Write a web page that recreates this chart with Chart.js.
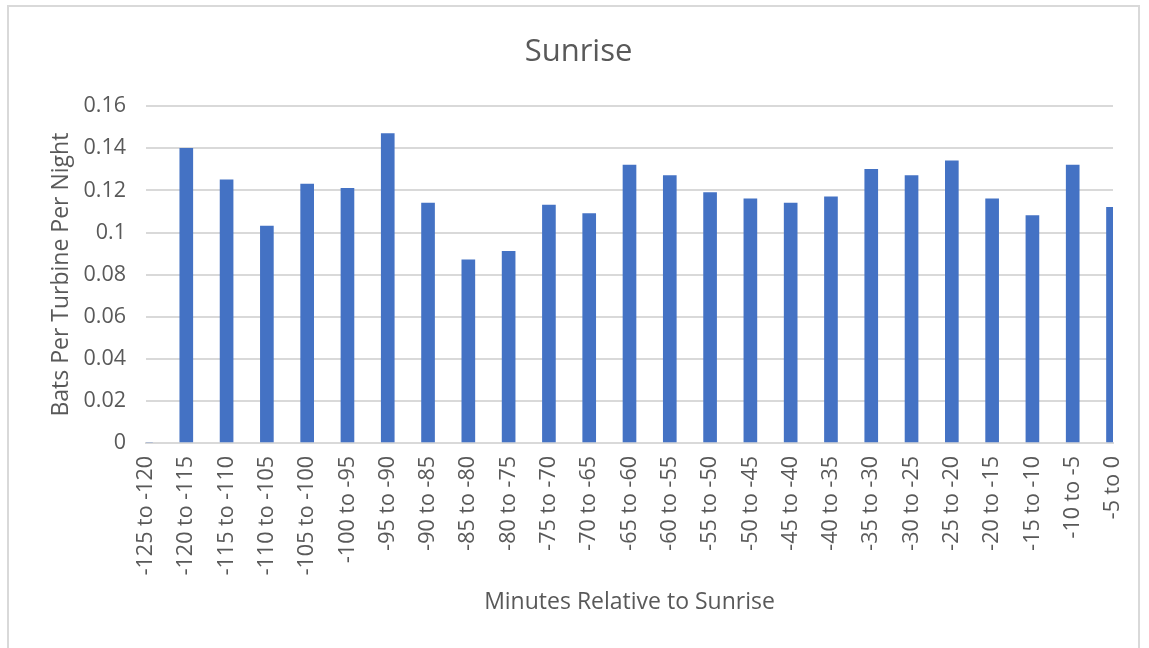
<!DOCTYPE html>
<html>
<head>
<meta charset="utf-8">
<script src="https://cdn.jsdelivr.net/npm/chart.js@4"></script>
<style>
  body { margin: 0; background: #fff; }
  #frame { position: absolute; left: 7px; top: 5px; width: 1133px; height: 700px; border: 2px solid #d9d9d9; box-sizing: border-box; }
  #wrap { position: absolute; left: 0; top: 0; width: 1149px; height: 648px; }
</style>
</head>
<body>
<div id="frame"></div>
<div id="wrap"><canvas id="chart" width="1149" height="648"></canvas></div>
<script>
// categories (5-minute bins before sunrise)
const categories = [
  '-125 to -120', '-120 to -115', '-115 to -110', '-110 to -105', '-105 to -100',
  '-100 to -95', '-95 to -90', '-90 to -85', '-85 to -80', '-80 to -75',
  '-75 to -70', '-70 to -65', '-65 to -60', '-60 to -55', '-55 to -50',
  '-50 to -45', '-45 to -40', '-40 to -35', '-35 to -30', '-30 to -25',
  '-25 to -20', '-20 to -15', '-15 to -10', '-10 to -5', '-5 to 0'
];

// bats per turbine per night
const batsPerTurbine = [
  0, 0.140, 0.125, 0.103, 0.123,
  0.121, 0.147, 0.114, 0.087, 0.091,
  0.113, 0.109, 0.132, 0.127, 0.119,
  0.116, 0.114, 0.117, 0.130, 0.127,
  0.134, 0.116, 0.108, 0.132, 0.112
];

const yTickLabels = ['0', '0.02', '0.04', '0.06', '0.08', '0.1', '0.12', '0.14', '0.16'];

const textColor = '#595959';
const gridColor = '#d9d9d9';
const fontFamily = "'Open Sans', 'Noto Sans', sans-serif";

const ctx = document.getElementById('chart').getContext('2d');
new Chart(ctx, {
  type: 'bar',
  data: {
    labels: categories,
    datasets: [{
      label: 'Bats Per Turbine Per Night',
      data: batsPerTurbine,
      backgroundColor: '#4472C4',
      barThickness: 13
    }]
  },
  options: {
    responsive: false,
    animation: false,
    layout: { padding: { left: 44, right: 36, top: 0, bottom: 28 } },
    plugins: {
      legend: { display: false },
      tooltip: { enabled: false },
      title: {
        display: true,
        text: 'Sunrise',
        color: textColor,
        font: { family: fontFamily, size: 31, weight: 'normal' },
        padding: { top: 34, bottom: 35 }
      }
    },
    scales: {
      x: {
        offset: false,
        grid: { display: false, drawTicks: false },
        border: { display: true, color: gridColor, width: 2 },
        ticks: {
          color: textColor,
          font: { family: fontFamily, size: 21.5 },
          minRotation: 90,
          maxRotation: 90,
          autoSkip: false,
          padding: 13
        },
        title: {
          display: true,
          text: 'Minutes Relative to Sunrise',
          color: textColor,
          font: { family: fontFamily, size: 23 }
        },
        afterFit: scale => {
          scale.height = 177;
          scale.paddingLeft = 0;
          scale.paddingRight = 0;
        }
      },
      y: {
        min: 0,
        max: 0.16,
        ticks: {
          stepSize: 0.02,
          color: textColor,
          font: { family: fontFamily, size: 21.5 },
          padding: 20,
          callback: (value, index) => yTickLabels[index]
        },
        grid: { color: gridColor, lineWidth: 2, drawTicks: false },
        border: { display: false },
        title: {
          display: true,
          text: 'Bats Per Turbine Per Night',
          color: textColor,
          font: { family: fontFamily, size: 23 }
        },
        afterFit: scale => { scale.width = 102; }
      }
    }
  }
});
</script>
</body>
</html>
